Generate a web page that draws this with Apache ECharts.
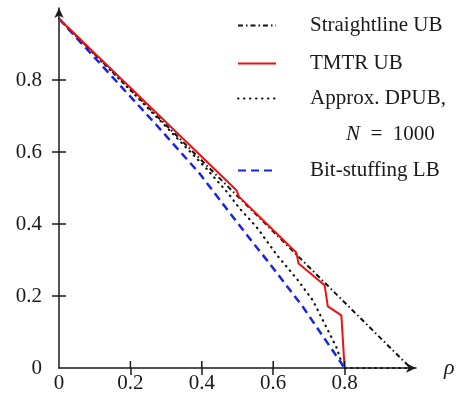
<!DOCTYPE html>
<html><head><meta charset="utf-8">
<script src="https://cdn.jsdelivr.net/npm/echarts@6/dist/echarts.min.js"></script>
<style>html,body{margin:0;padding:0;background:#fff}#c{width:468px;height:401px}</style>
</head><body><div id="c"></div>
<script>
// ---- data ----
const straightRho = [0, 0.985];
const straightVal = [0.97, 0];

const tmtrRho = [0, 0.497, 0.504, 0.665, 0.671, 0.744, 0.753, 0.791, 0.8];
const tmtrVal = [0.97, 0.494, 0.476, 0.32, 0.29, 0.23, 0.171, 0.146, 0];

const dpubRho = [0, 0.2, 0.3, 0.413, 0.474, 0.506, 0.553, 0.611, 0.669, 0.711, 0.744, 0.777, 0.797, 0.985];
const dpubVal = [0.97, 0.772, 0.67, 0.554, 0.485, 0.443, 0.392, 0.313, 0.244, 0.188, 0.123, 0.058, 0, 0];

const bitRho = [0, 0.1, 0.173, 0.273, 0.394, 0.469, 0.534, 0.59, 0.683, 0.8];
const bitVal = [0.97, 0.862, 0.783, 0.675, 0.54, 0.443, 0.36, 0.29, 0.17, 0];

const tickLabels = [0, 0.2, 0.4, 0.6, 0.8];
const tickMarks = [0.2, 0.4, 0.6, 0.8];

const names = ['Straightline UB', 'TMTR UB', 'Approx. DPUB,', 'Bit-stuffing LB'];

function pairs(xs, ys) { return xs.map((x, i) => [x, ys[i]]); }

const serif = 'Liberation Serif';
const ink = '#1a1a1a';
const FS = 21;

const chart = echarts.init(document.getElementById('c'));
const tickStyle = { color: ink, width: 1.5 };

function axisBase(pos, margin, withName) {
  const a = {
    type: 'value', min: 0, max: 1, position: pos,
    splitLine: { show: false },
    axisLine: { show: true, onZero: false, lineStyle: { color: ink, width: 1.5 }, symbol: ['none', 'arrow'], symbolSize: [7, 10] },
    axisTick: { show: true, inside: false, length: 7, lineStyle: tickStyle, customValues: tickMarks },
    axisLabel: { show: true, customValues: tickLabels, formatter: v => String(v), fontFamily: serif, fontSize: FS, color: ink, margin: margin }
  };
  if (withName) {
    a.name = 'ρ'; a.nameLocation = 'end'; a.nameGap = 28;
    a.nameTextStyle = { fontFamily: serif, fontStyle: 'italic', fontSize: 22, color: ink, verticalAlign: 'middle' };
  }
  return a;
}

chart.setOption({
  animation: false,
  backgroundColor: '#fff',
  grid: { left: 59, right: 52, top: 8, bottom: 33, containLabel: false },
  xAxis: axisBase('bottom', 5, true),
  yAxis: axisBase('left', 17, false),
  legend: [
    [names[0], 10], [names[1], 48], [names[2], 83], [names[3], 155]
  ].map(([n, t]) => ({
    data: [n], left: 232, top: t, orient: 'horizontal',
    itemWidth: 38, itemHeight: 14, selectedMode: false,
    itemStyle: { opacity: 0 },
    textStyle: { fontFamily: serif, fontSize: FS, color: ink, padding: [0, 0, 0, 29] }
  })),
  graphic: [{
    type: 'text', left: 346, top: 124,
    style: {
      text: '{i|N}\u2002=\u20021000', fill: ink, font: FS + 'px "Liberation Serif"',
      rich: { i: { fontFamily: serif, fontStyle: 'italic', fontSize: FS, fill: ink } }
    }
  }],
  series: [
    { name: names[0], type: 'line', data: pairs(straightRho, straightVal), symbol: 'none', z: 3,
      lineStyle: { color: '#111', width: 2, type: [5, 3, 1.5, 3] }, itemStyle: { color: '#111' } },
    { name: names[1], type: 'line', data: pairs(tmtrRho, tmtrVal), symbol: 'none', z: 4,
      lineStyle: { color: '#ee1111', width: 2 }, itemStyle: { color: '#ee1111' } },
    { name: names[2], type: 'line', data: pairs(dpubRho, dpubVal), symbol: 'none', z: 2,
      lineStyle: { color: '#111', width: 2.2, type: [0.5, 5.5], cap: 'round' }, itemStyle: { color: '#111' } },
    { name: names[3], type: 'line', data: pairs(bitRho, bitVal), symbol: 'none', z: 2,
      lineStyle: { color: '#1a22ee', width: 2.5, type: [8, 5] }, itemStyle: { color: '#1a22ee' } },
    {
      // inward half of the crossing tick marks, placed through the axis scales
      type: 'custom', silent: true, z: 5, clip: false,
      data: tickMarks.map(v => [v]),
      renderItem: function (params, api) {
        const v = api.value(0);
        const px = api.coord([v, 0]);
        const py = api.coord([0, v]);
        return {
          type: 'group', children: [
            { type: 'line', shape: { x1: px[0], y1: px[1], x2: px[0], y2: px[1] - 7 }, style: { stroke: ink, lineWidth: 1.5 } },
            { type: 'line', shape: { x1: py[0], y1: py[1], x2: py[0] + 7, y2: py[1] }, style: { stroke: ink, lineWidth: 1.5 } }
          ]
        };
      }
    }
  ]
});
</script></body></html>
